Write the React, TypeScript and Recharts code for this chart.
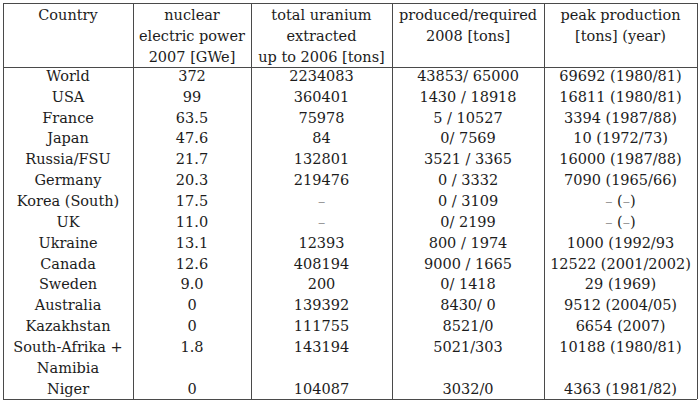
import React from 'react';
import { ScatterChart, Scatter, XAxis, YAxis, ReferenceLine } from 'recharts';

// header text, one array per printed line
const headerLine1 = ['Country', 'nuclear', 'total uranium', 'produced/required', 'peak production'];
const headerLine2 = ['', 'electric power', 'extracted', '2008 [tons]', '[tons] (year)'];
const headerLine3 = ['', '2007 [GWe]', 'up to 2006 [tons]', '', ''];

const countries = [
  'World', 'USA', 'France', 'Japan', 'Russia/FSU', 'Germany', 'Korea (South)', 'UK',
  'Ukraine', 'Canada', 'Sweden', 'Australia', 'Kazakhstan', 'South-Afrika +', 'Namibia', 'Niger',
];
const nuclearPower = [
  '372', '99', '63.5', '47.6', '21.7', '20.3', '17.5', '11.0',
  '13.1', '12.6', '9.0', '0', '0', '1.8', '', '0',
];
const uraniumExtracted = [
  '2234083', '360401', '75978', '84', '132801', '219476', '–', '–',
  '12393', '408194', '200', '139392', '111755', '143194', '', '104087',
];
const producedRequired = [
  '43853/ 65000', '1430 / 18918', '5 / 10527', '0/ 7569', '3521 / 3365', '0 / 3332', '0 / 3109', '0/ 2199',
  '800 / 1974', '9000 / 1665', '0/ 1418', '8430/ 0', '8521/0', '5021/303', '', '3032/0',
];
const peakProduction = [
  '69692 (1980/81)', '16811 (1980/81)', '3394 (1987/88)', '10 (1972/73)', '16000 (1987/88)',
  '7090 (1965/66)', '– (–)', '– (–)', '1000 (1992/93', '12522 (2001/2002)', '29 (1969)',
  '9512 (2004/05)', '6654 (2007)', '10188 (1980/81)', '', '4363 (1981/82)',
];

// layout: column edges in px along the x axis
const COL_EDGES = [0, 130, 248, 389, 541, 694];
const HEADER_ROWS = 3;
const TOTAL_ROWS = HEADER_ROWS + countries.length;
const FONT = '"DejaVu Serif", serif';
const LINE_COLOR = '#4a4a4a';

const colCenter = (i: number) => (COL_EDGES[i] + COL_EDGES[i + 1]) / 2;

type Cell = { x: number; y: number; label: string };

function buildHeader(): Cell[] {
  const cells: Cell[] = [];
  [headerLine1, headerLine2, headerLine3].forEach((line, r) => {
    line.forEach((label, c) => {
      if (label) cells.push({ x: colCenter(c), y: r + 0.08, label });
    });
  });
  return cells;
}

function buildBody(): Cell[] {
  const cells: Cell[] = [];
  const columns = [countries, nuclearPower, uraniumExtracted, producedRequired, peakProduction];
  columns.forEach((col, c) => {
    col.forEach((label, r) => {
      if (label) cells.push({ x: colCenter(c), y: HEADER_ROWS + r, label });
    });
  });
  return cells;
}

const renderText = (props: any) => {
  const { cx, cy, payload } = props;
  const parts = String(payload.label).split(/(–)/);
  return (
    <text
      x={cx}
      y={cy}
      textAnchor="middle"
      dominantBaseline="central"
      style={{ fontFamily: FONT, fontSize: 14.5 }}
      fill="#1c1c1c"
    >
      {parts.map((p: string, i: number) => (
        <tspan key={i} fill={p === '–' ? '#9a9a9a' : undefined}>
          {p}
        </tspan>
      ))}
    </text>
  );
};

export default function App() {
  const header = buildHeader();
  const body = buildBody();

  return (
    <div style={{ position: 'absolute', left: 0, top: 0, background: '#fff', fontFamily: FONT }}>
      <ScatterChart
        width={700}
        height={401}
        margin={{ top: 3, right: 3, bottom: 2, left: 3 }}
        style={{ fontFamily: FONT }}
      >
        <XAxis type="number" dataKey="x" domain={[COL_EDGES[0], COL_EDGES[COL_EDGES.length - 1]]} hide />
        <YAxis type="number" dataKey="y" domain={[-0.5, TOTAL_ROWS - 0.5]} reversed hide />
        {COL_EDGES.map((e) => (
          <ReferenceLine key={'v' + e} x={e} stroke={LINE_COLOR} strokeWidth={1} shapeRendering="crispEdges" />
        ))}
        <ReferenceLine y={-0.5} stroke={LINE_COLOR} strokeWidth={1} shapeRendering="crispEdges" />
        <ReferenceLine y={HEADER_ROWS - 0.4} stroke={LINE_COLOR} strokeWidth={1} shapeRendering="crispEdges" />
        <ReferenceLine y={TOTAL_ROWS - 0.5} stroke={LINE_COLOR} strokeWidth={1} shapeRendering="crispEdges" />
        <Scatter data={header} shape={renderText} isAnimationActive={false} />
        <Scatter data={body} shape={renderText} isAnimationActive={false} />
      </ScatterChart>
    </div>
  );
}
